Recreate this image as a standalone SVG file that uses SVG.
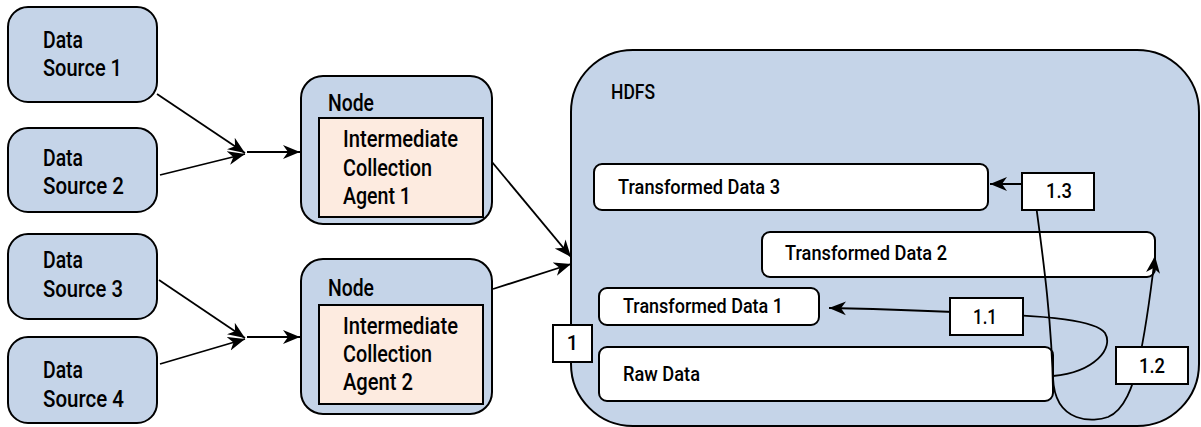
<svg xmlns="http://www.w3.org/2000/svg" width="1201" height="427" viewBox="0 0 1201 427">
<style>
text{font-family:Roboto,"Liberation Sans",Arial,sans-serif;font-weight:500;fill:#000;}
.src{fill:#C5D4E8;stroke:#000;stroke-width:2;}
.inner{fill:#FDEBE0;stroke:#000;stroke-width:2;}
.wbox{fill:#fff;stroke:#000;stroke-width:2;}
.lbl{fill:#fff;stroke:#000;stroke-width:2;}
.t22{font-size:23px;}
.t20{font-size:21px;}
.t19{font-size:20px;}
.conn{fill:none;stroke:#000;stroke-width:1.8;}
</style>
<defs>
<marker id="ah" markerUnits="userSpaceOnUse" markerWidth="18" markerHeight="16" refX="17" refY="8" orient="auto">
<path d="M0,1 L17,8 L0,15 L5,8 z" fill="#000"/>
</marker>
</defs>

<g id="hdfs">
<rect class="src" x="571" y="50" width="628" height="376" rx="62" ry="62"/>
<text class="t19" x="611" y="99" textLength="44" lengthAdjust="spacingAndGlyphs">HDFS</text>
</g>

<g id="ds1">
<rect class="src" x="8" y="7" width="149" height="95" rx="20"/>
<text class="t22" x="43" y="48" textLength="40" lengthAdjust="spacingAndGlyphs">Data</text>
<text class="t22" x="43" y="76" textLength="79" lengthAdjust="spacingAndGlyphs">Source 1</text>
</g>
<g id="ds2">
<rect class="src" x="8" y="128" width="149" height="84" rx="20"/>
<text class="t22" x="43" y="166" textLength="40" lengthAdjust="spacingAndGlyphs">Data</text>
<text class="t22" x="43" y="194" textLength="81" lengthAdjust="spacingAndGlyphs">Source 2</text>
</g>
<g id="ds3">
<rect class="src" x="8" y="234" width="149" height="85" rx="20"/>
<text class="t22" x="43" y="268" textLength="40" lengthAdjust="spacingAndGlyphs">Data</text>
<text class="t22" x="43" y="297" textLength="80" lengthAdjust="spacingAndGlyphs">Source 3</text>
</g>
<g id="ds4">
<rect class="src" x="8" y="337" width="149" height="86" rx="20"/>
<text class="t22" x="43" y="378" textLength="40" lengthAdjust="spacingAndGlyphs">Data</text>
<text class="t22" x="43" y="407" textLength="81" lengthAdjust="spacingAndGlyphs">Source 4</text>
</g>

<g id="node1">
<rect class="src" x="301" y="76" width="191" height="148" rx="22"/>
<text class="t22" x="328" y="111" textLength="46" lengthAdjust="spacingAndGlyphs">Node</text>
<rect class="inner" x="319" y="118" width="164" height="99"/>
<text class="t22" x="343" y="147" textLength="115" lengthAdjust="spacingAndGlyphs">Intermediate</text>
<text class="t22" x="343" y="176" textLength="89" lengthAdjust="spacingAndGlyphs">Collection</text>
<text class="t22" x="343" y="204" textLength="68" lengthAdjust="spacingAndGlyphs">Agent 1</text>
</g>
<g id="node2">
<rect class="src" x="301" y="259" width="191" height="155" rx="22"/>
<text class="t22" x="328" y="296" textLength="46" lengthAdjust="spacingAndGlyphs">Node</text>
<rect class="inner" x="319" y="305" width="164" height="99"/>
<text class="t22" x="343" y="334" textLength="115" lengthAdjust="spacingAndGlyphs">Intermediate</text>
<text class="t22" x="343" y="362" textLength="89" lengthAdjust="spacingAndGlyphs">Collection</text>
<text class="t22" x="343" y="390" textLength="70" lengthAdjust="spacingAndGlyphs">Agent 2</text>
</g>

<g id="td3">
<rect class="wbox" x="594" y="164" width="394" height="46" rx="8"/>
<text class="t20" x="618" y="194" textLength="162" lengthAdjust="spacingAndGlyphs">Transformed Data 3</text>
</g>
<g id="td2">
<rect class="wbox" x="762" y="232" width="393" height="45" rx="8"/>
<text class="t20" x="785" y="260" textLength="162" lengthAdjust="spacingAndGlyphs">Transformed Data 2</text>
</g>
<g id="td1">
<rect class="wbox" x="599" y="288" width="220" height="37" rx="8"/>
<text class="t20" x="623" y="313" textLength="160" lengthAdjust="spacingAndGlyphs">Transformed Data 1</text>
</g>
<g id="raw">
<rect class="wbox" x="599" y="347" width="454" height="54" rx="8"/>
<text class="t20" x="623" y="381" textLength="77" lengthAdjust="spacingAndGlyphs">Raw Data</text>
</g>

<g id="connectors">
<path class="conn" d="M157,94 L245,153" marker-end="url(#ah)"/>
<path class="conn" d="M160,175 L245,154" marker-end="url(#ah)"/>
<path class="conn" d="M247,152 L300,152" marker-end="url(#ah)"/>
<path class="conn" d="M159,280 L245,338" marker-end="url(#ah)"/>
<path class="conn" d="M160,364 L245,339" marker-end="url(#ah)"/>
<path class="conn" d="M247,337 L300,337" marker-end="url(#ah)"/>
<path class="conn" d="M492,162 L571,257" marker-end="url(#ah)"/>
<path class="conn" d="M493,289 L571,264" marker-end="url(#ah)"/>
<path class="conn" d="M1053,376 C1095,372 1114,348 1105,333 C1096,320 1045,316 990,314"/>
<path class="conn" d="M990,314 C940,311 880,309 829,308" marker-end="url(#ah)"/>
<path class="conn" d="M1053,390 C1052,320 1042,250 1036,205"/>
<path class="conn" d="M1030,184 L990,184" marker-end="url(#ah)"/>
<path class="conn" d="M1053,378 C1055,425 1095,422 1108,417 C1125,410 1133,385 1138,365 C1146,330 1151,290 1155,256" marker-end="url(#ah)"/>
</g>

<g id="label-1">
<rect class="lbl" x="553" y="325" width="39" height="37"/>
<text class="t19" x="572.5" y="350" text-anchor="middle">1</text>
</g>
<g id="label-1-3">
<rect class="lbl" x="1022" y="173" width="72" height="37"/>
<text class="t19" x="1059" y="198" text-anchor="middle" textLength="26" lengthAdjust="spacingAndGlyphs">1.3</text>
</g>
<g id="label-1-1">
<rect class="lbl" x="950" y="298" width="73" height="37"/>
<text class="t19" x="985" y="324" text-anchor="middle" textLength="24" lengthAdjust="spacingAndGlyphs">1.1</text>
</g>
<g id="label-1-2">
<rect class="lbl" x="1116" y="347" width="72" height="37"/>
<text class="t19" x="1152" y="373" text-anchor="middle" textLength="26" lengthAdjust="spacingAndGlyphs">1.2</text>
</g>
</svg>
